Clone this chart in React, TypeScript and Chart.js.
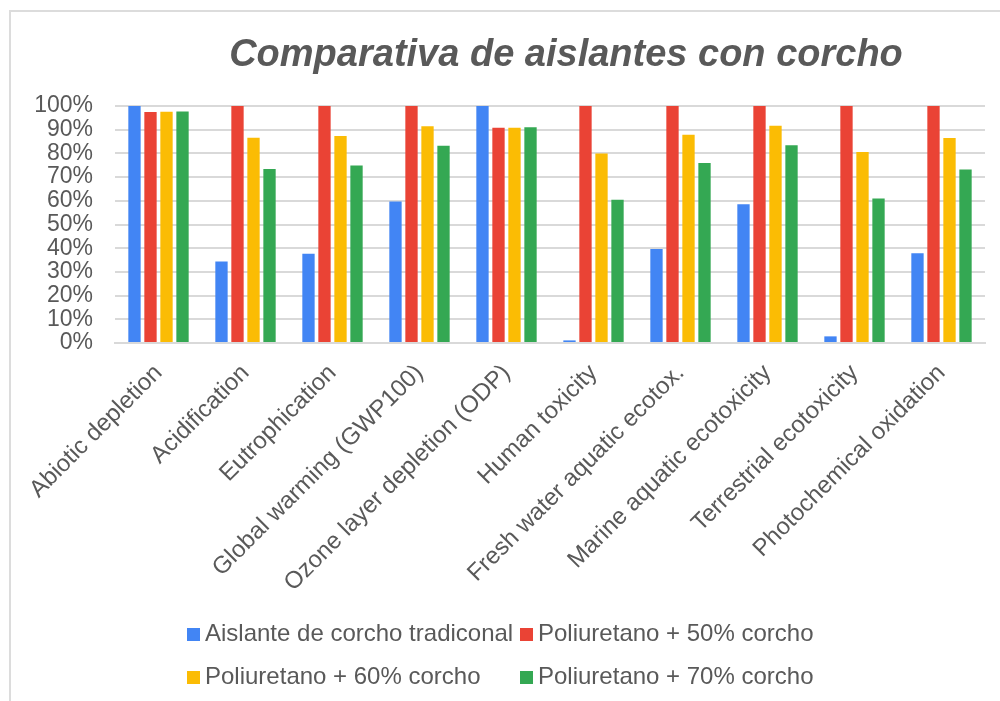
import React, { useEffect, useRef } from "react";
import { Chart, registerables } from "chart.js";

Chart.register(...registerables);

const TITLE = "Comparativa de aislantes con corcho";

const categories = [
  "Abiotic depletion",
  "Acidification",
  "Eutrophication",
  "Global warming (GWP100)",
  "Ozone layer depletion (ODP)",
  "Human toxicity",
  "Fresh water aquatic ecotox.",
  "Marine aquatic ecotoxicity",
  "Terrestrial ecotoxicity",
  "Photochemical oxidation",
];

const seriesNames = [
  "Aislante de corcho tradiconal",
  "Poliuretano + 50% corcho",
  "Poliuretano + 60% corcho",
  "Poliuretano + 70% corcho",
];

const seriesColors = ["#4285F4", "#EA4335", "#FBBC04", "#34A853"];

const traditional = [100, 34.4, 37.7, 59.7, 100, 1.1, 39.7, 58.5, 2.8, 37.9];
const pu50 = [97.5, 100, 100, 100, 90.8, 100, 100, 100, 100, 100];
const pu60 = [97.6, 86.6, 87.3, 91.5, 90.8, 80.0, 87.9, 91.7, 80.6, 86.5];
const pu70 = [97.7, 73.4, 74.9, 83.2, 91.0, 60.4, 75.9, 83.4, 61.0, 73.2];

const yMin = 0;
const yMax = 100;
const yStep = 10;

const FONT = '"Liberation Sans", Arial, sans-serif';
const TEXT = "#595959";
const GRID = "#d9d9d9";

const titlePlugin = {
  id: "customTitle",
  afterDraw(chart: any) {
    const ctx = chart.ctx;
    ctx.save();
    ctx.font = `italic bold 38px ${FONT}`;
    ctx.fillStyle = TEXT;
    ctx.textAlign = "center";
    ctx.textBaseline = "alphabetic";
    const cx = (chart.chartArea.left + chart.chartArea.right) / 2 + 16;
    ctx.fillText(TITLE, cx, 66);
    ctx.restore();
  },
};

const legendPlugin = {
  id: "gridLegend",
  afterDraw(chart: any) {
    const ctx = chart.ctx;
    ctx.save();
    ctx.font = `24px ${FONT}`;
    ctx.textBaseline = "alphabetic";
    ctx.textAlign = "left";
    const cols = [187, 520];
    const rows = [641, 684];
    chart.data.datasets.forEach((ds: any, i: number) => {
      const x = cols[i % 2];
      const y = rows[Math.floor(i / 2)];
      ctx.fillStyle = ds.backgroundColor;
      ctx.fillRect(x, y - 13, 13, 13);
      ctx.fillStyle = TEXT;
      ctx.fillText(ds.label, x + 18, y);
    });
    ctx.restore();
  },
};

export default function App() {
  const ref = useRef<HTMLCanvasElement | null>(null);

  useEffect(() => {
    if (!ref.current) return;
    const series = [traditional, pu50, pu60, pu70];
    const chart = new Chart(ref.current, {
      type: "bar",
      data: {
        labels: categories,
        datasets: series.map((data, i) => ({
          label: seriesNames[i],
          data,
          backgroundColor: seriesColors[i],
          borderWidth: 0,
          categoryPercentage: 0.736,
          barPercentage: 0.77,
        })),
      },
      options: {
        responsive: false,
        animation: false,
        devicePixelRatio: 1,
        layout: { padding: { left: 0, top: 106, right: 15, bottom: 88 } },
        plugins: {
          legend: { display: false },
          title: { display: false },
          tooltip: { enabled: false },
        },
        scales: {
          x: {
            grid: { display: false },
            border: { display: true, color: GRID, width: 2 },
            ticks: {
              autoSkip: false,
              minRotation: 45,
              maxRotation: 45,
              color: TEXT,
              font: { family: FONT, size: 24 },
              padding: 8,
            },
            afterFit: (scale: any) => {
              scale.height = 270;
            },
          },
          y: {
            min: yMin,
            max: yMax,
            grid: { color: GRID, lineWidth: 2, drawTicks: false },
            border: { display: false },
            ticks: {
              autoSkip: false,
              stepSize: yStep,
              color: TEXT,
              padding: 22,
              font: { family: FONT, size: 23 },
              callback: (v: any) => `${v}%`,
            },
            afterFit: (scale: any) => {
              scale.width = 115;
            },
          },
        },
      },
      plugins: [titlePlugin, legendPlugin],
    });
    return () => chart.destroy();
  }, []);

  return (
    <div style={{ position: "fixed", left: 0, top: 0, width: 1000, height: 701, background: "#fff", overflow: "hidden" }}>
      <div
        style={{
          position: "absolute",
          left: 9,
          top: 10,
          width: 1100,
          height: 800,
          borderTop: "2px solid #dcdcdc",
          borderLeft: "2px solid #dcdcdc",
        }}
      />
      <canvas ref={ref} width={1000} height={701} style={{ position: "absolute", left: 0, top: 0, display: "block" }} />
    </div>
  );
}
